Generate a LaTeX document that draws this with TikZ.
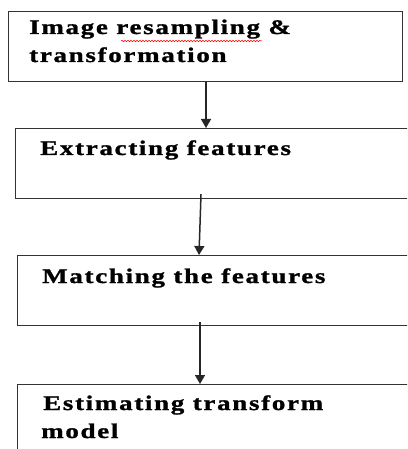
\documentclass[tikz,border=0pt]{standalone}
\usepackage{fontspec}
\setmainfont{Liberation Serif}[FakeStretch=1.3,LetterSpace=8,BoldFeatures={FakeBold=1.2}]
\usetikzlibrary{arrows.meta,decorations.pathmorphing}

\begin{document}
\begin{tikzpicture}[x=1pt,y=-1pt,
    stepbox/.style={draw=black!80, line width=1.2pt, rectangle, minimum height=70pt, inner sep=0pt, anchor=north west},
    steptext/.style={anchor=base west, inner sep=0pt, align=left, font=\fontsize{20.8}{28}\selectfont\bfseries},
    flow/.style={-{Triangle[length=9pt,width=10pt]}, line width=1.5pt, black!85}]
  \useasboundingbox (0,0) rectangle (407,449);
  \clip (0,0) rectangle (407,449);

  % boxes
  \node[stepbox, minimum width=394pt] (resample) at (8,11) {};
  \node[stepbox, minimum width=420pt] (extract) at (15,128) {};
  \node[stepbox, minimum width=420pt] (match) at (17,255) {};
  \node[stepbox, minimum width=420pt, minimum height=120pt] (estimate) at (17,384) {};

  % texts (base anchor = last line)
  \node[steptext] (resampletxt) at (29,62) {Image resampling \&\\transformation};
  \node[steptext] (extracttxt) at (40,155) {Extracting features};
  \node[steptext] (matchtxt) at (42,283) {Matching the features};
  \node[steptext] (estimatetxt) at (41,438) {\hspace*{2pt}Estimating transform\\model};

  % spell check mark
  \draw[red, line width=0.5pt, decorate, decoration={snake, amplitude=0.8pt, segment length=3pt}] (121,41) -- (262,41);

  % arrows
  \draw[flow] ([xshift=198pt]resample.south west) -- ([xshift=191pt]extract.north west);
  \draw[flow] ([xshift=186pt,yshift=5pt]extract.south west) -- ([xshift=182pt]match.north west);
  \draw[flow] ([xshift=183pt,yshift=4pt]match.south west) -- ([xshift=183pt]estimate.north west);
\end{tikzpicture}
\end{document}
